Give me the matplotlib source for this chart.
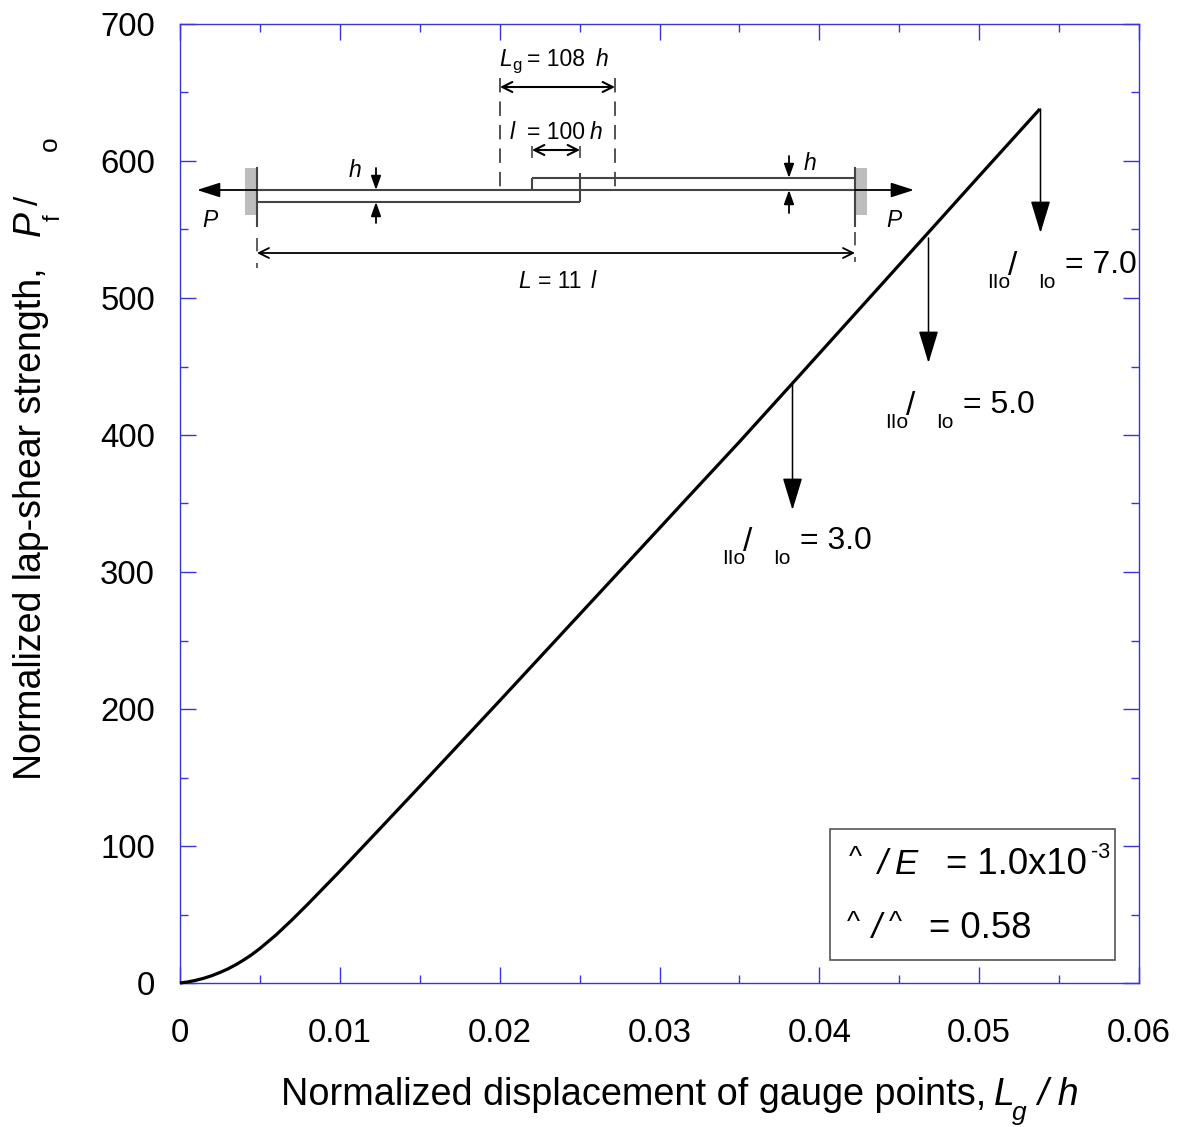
import matplotlib
matplotlib.use("Agg")
import matplotlib.pyplot as plt
from matplotlib.patches import Rectangle
from matplotlib.ticker import MultipleLocator

plt.rcParams['font.family'] = ['Liberation Sans', 'DejaVu Sans']

# Data
disp = [0, 0.0005, 0.001, 0.0015, 0.002, 0.0025, 0.003, 0.0035, 0.004, 0.0045, 0.005, 0.006, 0.007, 0.008, 0.009, 0.00995,
        0.0125, 0.015, 0.02, 0.025, 0.03, 0.0317, 0.035, 0.0383, 0.04, 0.0468, 0.05, 0.0538]
load = [0, 0.8, 2, 3.5, 5.4, 7.7, 10.3, 13.4, 16.9, 20.8, 25.2, 35, 46, 57.6, 69.6, 81,
        112.5, 143.5, 206, 269, 332, 353.5, 395, 437.5, 459.5, 547.5, 589, 638]
xticks = [0, 0.01, 0.02, 0.03, 0.04, 0.05, 0.06]
xticklabels = ['0', '0.01', '0.02', '0.03', '0.04', '0.05', '0.06']
yticks = [0, 100, 200, 300, 400, 500, 600, 700]
ratio_labels = ['3.0', '5.0', '7.0']

W, H = 1177, 1127
fig = plt.figure(figsize=(W/100, H/100), dpi=100)
ax = fig.add_axes([180/W, 1-983/H, 959/W, 959/H])
BLUE = '#3a34d8'
ax.plot(disp, load, color='black', lw=2.3, solid_capstyle='butt', solid_joinstyle='round', clip_on=False, zorder=3)
ax.set_xlim(0, 0.06)
ax.set_ylim(0, 700)
ax.set_xticks(xticks)
ax.set_xticklabels(xticklabels)
ax.set_yticks(yticks)
ax.xaxis.set_minor_locator(MultipleLocator(0.005))
ax.yaxis.set_minor_locator(MultipleLocator(50))
ax.tick_params(which='major', direction='in', length=11.5, width=1, color=BLUE,
               top=True, right=True, labelsize=23.7, pad=25)
ax.tick_params(which='minor', direction='in', length=6, width=1, color=BLUE, top=True, right=True)
ax.tick_params(axis='y', which='major', pad=18)
for s in ax.spines.values():
    s.set_color(BLUE)
    s.set_linewidth(1)

# overlay in pixel coordinates of the picture
ov = fig.add_axes([0, 0, 1, 1], facecolor='none')
ov.set_xlim(0, W)
ov.set_ylim(H, 0)
ov.axis('off')
GR = '#444444'

def T(x, y, s, size=15, **kw):
    kw.setdefault('ha', 'left')
    kw.setdefault('va', 'baseline')
    ov.text(x, y, s, fontsize=size, color='black', **kw)

def L(x0, y0, x1, y1, lw=1.5, c=GR, **kw):
    ov.plot([x0, x1], [y0, y1], color=c, lw=lw, solid_capstyle='butt', **kw)

def arrow(x0, y0, x1, y1, style='->,head_length=0.55,head_width=0.28', lw=1.3, ms=12):
    ov.annotate('', xy=(x1, y1), xytext=(x0, y0),
                arrowprops=dict(arrowstyle=style, color='black', lw=lw,
                                shrinkA=0, shrinkB=0, mutation_scale=ms))

BIG = '-|>,head_length=1.0,head_width=0.32'
S = 16.5

# axis titles
T(281, 1105, 'Normalized displacement of gauge points,', 27.3)
T(994, 1105, 'L', 27, style='italic')
T(1012, 1120, 'g', 19, style='italic')
T(1037, 1105, '/ h', 27, style='italic')
T(41, 780, 'Normalized lap-shear strength,', 27, rotation=90, rotation_mode='anchor')
T(40, 236, 'P', 27, style='italic', rotation=90, rotation_mode='anchor')
T(60, 221, 'f', 17, rotation=90, rotation_mode='anchor')
T(38, 205, '/', 24, rotation=90, rotation_mode='anchor')
T(57, 151, 'o', 19, rotation=90, rotation_mode='anchor')

# grips
ov.add_patch(Rectangle((245, 168), 11, 47, fc='#bdbdbd', ec='none'))
ov.add_patch(Rectangle((856, 168), 11, 47, fc='#bdbdbd', ec='none'))

# schematic
L(257, 167, 257, 227)
L(855, 167, 855, 227)
L(257, 190, 855, 190)
L(257, 202, 580, 202)
L(532, 178, 855, 178)
L(532, 178, 532, 190)
L(580, 173, 580, 202)
for xd in (500, 615):
    L(xd, 78, xd, 190, lw=1.3, dashes=(8, 5))
L(532, 146, 532, 158, lw=1.2)
L(580, 146, 580, 158, lw=1.2)
L(257, 238, 257, 268, lw=1.2, dashes=(8, 7))
L(855, 232, 855, 262, lw=1.2, dashes=(8, 7))
arrow(257, 190, 197, 190, BIG, ms=14)
arrow(855, 190, 914, 190, BIG, ms=14)
arrow(500, 87, 615, 87, '<->,head_length=0.6,head_width=0.3', lw=1.5)
arrow(532, 150, 580, 150, '<->,head_length=0.6,head_width=0.3', lw=1.5)
arrow(257, 253, 855, 253, '<->,head_length=0.6,head_width=0.3', lw=1.3)
arrow(376, 168, 376, 190, '-|>,head_length=0.7,head_width=0.25')
arrow(376, 223, 376, 202, '-|>,head_length=0.7,head_width=0.25')
arrow(789, 156, 789, 178, '-|>,head_length=0.7,head_width=0.25')
arrow(789, 213, 789, 190, '-|>,head_length=0.7,head_width=0.25')

T(499, 66, 'L', S, style='italic')
T(512, 70, 'g', 12)
T(527, 66, '= 108', S)
T(596, 66, 'h', S, style='italic')
T(510, 139, 'l', S, style='italic')
T(527, 139, '= 100', S)
T(590, 139, 'h', S, style='italic')
T(349, 177, 'h', S, style='italic')
T(804, 170, 'h', S, style='italic')
T(202, 227, 'P', S, style='italic')
T(886, 227, 'P', S, style='italic')
T(518, 288, 'L', S, style='italic')
T(538, 288, '= 11', S)
T(591, 288, 'l', S, style='italic')

# drop arrows and ratios
for (ax0, y0, y1, lab, tx, ty) in [(792.5, 383, 510, ratio_labels[0], 722, 564),
                                   (928.5, 238, 363, ratio_labels[1], 885, 428),
                                   (1040.5, 109, 233, ratio_labels[2], 987, 288)]:
    arrow(ax0, y0, ax0, y1, '-|>,head_length=1.68,head_width=0.51', lw=1.1, ms=12)
    T(tx, ty, 'IIo', 15)
    T(tx + 21, ty - 13, '/', 24)
    T(tx + 51, ty, 'Io', 15)
    T(tx + 78, ty - 15, '= ' + lab, 23)

# parameter box
ov.add_patch(Rectangle((830, 829), 285, 131, fc='white', ec='#555555', lw=1.2, zorder=1))
T(849, 865, '^', 20)
T(878, 874, '/', 25, style='italic')
T(895, 874, 'E', 25, style='italic')
T(946, 874, '= 1.0x10', 26.3)
T(1091, 858, '-3', 15.5)
T(847, 930, '^', 20)
T(872, 938, '/', 25, style='italic')
T(889, 930, '^', 20)
T(929, 938, '= 0.58', 26.3)

fig.savefig('out.png', dpi=100)
